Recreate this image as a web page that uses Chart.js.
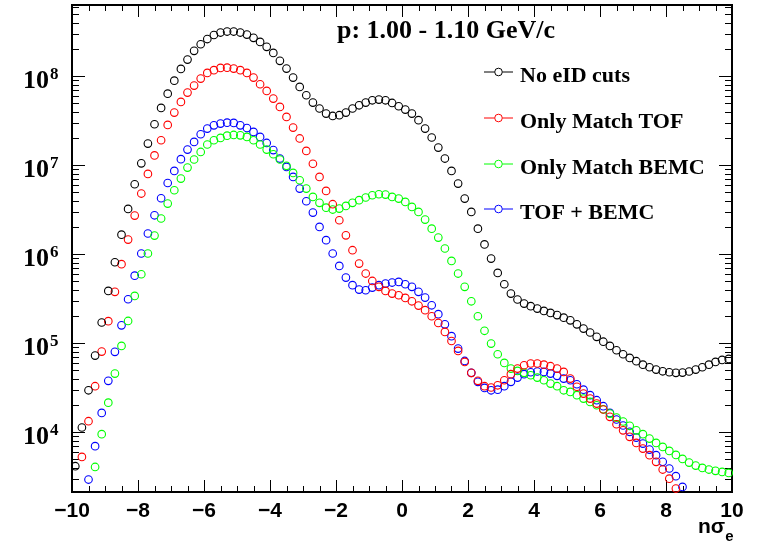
<!DOCTYPE html>
<html>
<head>
<meta charset="utf-8">
<script src="https://cdn.jsdelivr.net/npm/chart.js@4.4.1/dist/chart.umd.min.js"></script>
<style>
  html, body { margin: 0; padding: 0; background: #fff; }
  #plot { display: block; }
</style>
</head>
<body>
<canvas id="plot" width="769" height="543"></canvas>
<script>
// bin centres in n sigma_e
const nSigma = [
  -9.9, -9.7, -9.5, -9.3, -9.1, -8.9, -8.7, -8.5, -8.3, -8.1,
  -7.9, -7.7, -7.5, -7.3, -7.1, -6.9, -6.7, -6.5, -6.3, -6.1,
  -5.9, -5.7, -5.5, -5.3, -5.1, -4.9, -4.7, -4.5, -4.3, -4.1,
  -3.9, -3.7, -3.5, -3.3, -3.1, -2.9, -2.7, -2.5, -2.3, -2.1,
  -1.9, -1.7, -1.5, -1.3, -1.1, -0.9, -0.7, -0.5, -0.3, -0.1,
  0.1, 0.3, 0.5, 0.7, 0.9, 1.1, 1.3, 1.5, 1.7, 1.9,
  2.1, 2.3, 2.5, 2.7, 2.9, 3.1, 3.3, 3.5, 3.7, 3.9,
  4.1, 4.3, 4.5, 4.7, 4.9, 5.1, 5.3, 5.5, 5.7, 5.9,
  6.1, 6.3, 6.5, 6.7, 6.9, 7.1, 7.3, 7.5, 7.7, 7.9,
  8.1, 8.3, 8.5, 8.7, 8.9, 9.1, 9.3, 9.5, 9.7, 9.9
];

const noCuts = [
  4.15e3, 1.13e4, 2.96e4, 7.26e4, 1.71e5, 3.87e5, 8.13e5, 1.66e6, 3.23e6, 6.12e6,
  1.05e7, 1.75e7, 2.89e7, 4.41e7, 6.38e7, 8.93e7, 1.21e8, 1.54e8, 1.93e8, 2.29e8,
  2.62e8, 2.91e8, 3.10e8, 3.18e8, 3.18e8, 3.10e8, 2.94e8, 2.70e8, 2.43e8, 2.14e8,
  1.83e8, 1.49e8, 1.22e8, 9.66e7, 7.59e7, 6.12e7, 5.06e7, 4.34e7, 3.81e7, 3.58e7,
  3.65e7, 3.91e7, 4.34e7, 4.72e7, 5.06e7, 5.37e7, 5.47e7, 5.37e7, 5.01e7, 4.60e7,
  4.22e7, 3.81e7, 3.21e7, 2.58e7, 2.05e7, 1.58e7, 1.19e7, 8.63e6, 6.22e6, 4.22e6,
  2.99e6, 1.94e6, 1.29e6, 8.93e5, 6.17e5, 4.60e5, 3.61e5, 3.10e5, 2.79e5, 2.61e5,
  2.45e5, 2.31e5, 2.19e5, 2.07e5, 1.94e5, 1.81e5, 1.63e5, 1.46e5, 1.32e5, 1.18e5,
  1.04e5, 9.33e4, 8.34e4, 7.52e4, 6.84e4, 6.28e4, 5.75e4, 5.37e4, 5.06e4, 4.84e4,
  4.72e4, 4.65e4, 4.68e4, 4.81e4, 5.06e4, 5.37e4, 5.75e4, 6.17e4, 6.50e4, 6.67e4
];

const onlyTof = [
  null, 5.28e3, 1.33e4, 3.29e4, 8.05e4, 1.77e5, 3.78e5, 7.73e5, 1.46e6, 2.72e6,
  4.81e6, 8.00e6, 1.29e7, 1.91e7, 2.84e7, 3.91e7, 5.15e7, 6.55e7, 7.85e7, 9.42e7,
  1.09e8, 1.17e8, 1.24e8, 1.25e8, 1.22e8, 1.17e8, 1.09e8, 9.66e7, 8.13e7, 6.84e7,
  5.61e7, 4.52e7, 3.49e7, 2.65e7, 2.00e7, 1.45e7, 1.04e7, 7.40e6, 5.15e6, 3.65e6,
  2.41e6, 1.63e6, 1.11e6, 7.85e5, 6.07e5, 5.01e5, 4.30e5, 3.87e5, 3.61e5, 3.46e5,
  3.23e5, 2.96e5, 2.65e5, 2.35e5, 2.01e5, 1.69e5, 1.34e5, 1.06e5, 8.20e4, 6.17e4,
  4.65e4, 3.78e4, 3.29e4, 3.18e4, 3.37e4, 3.84e4, 4.49e4, 5.19e4, 5.66e4, 5.92e4,
  5.92e4, 5.75e4, 5.52e4, 5.19e4, 4.76e4, 4.01e4, 3.24e4, 2.72e4, 2.39e4, 2.10e4,
  1.80e4, 1.49e4, 1.23e4, 1.05e4, 8.87e3, 7.59e3, 6.55e3, 5.52e3, 4.65e3, 3.81e3,
  3.01e3, 2.33e3, null, null, null, null, null, null, null, null
];

const onlyBemc = [
  null, null, null, 4.07e3, 9.51e3, 2.15e4, 4.56e4, 9.33e4, 1.78e5, 3.40e5,
  5.96e5, 1.02e6, 1.62e6, 2.52e6, 3.71e6, 5.24e6, 7.08e6, 9.42e6, 1.16e7, 1.41e7,
  1.71e7, 1.91e7, 2.03e7, 2.15e7, 2.19e7, 2.17e7, 2.08e7, 1.91e7, 1.71e7, 1.50e7,
  1.33e7, 1.16e7, 9.84e6, 8.20e6, 6.78e6, 5.47e6, 4.41e6, 3.78e6, 3.34e6, 3.18e6,
  3.26e6, 3.49e6, 3.78e6, 4.05e6, 4.34e6, 4.60e6, 4.72e6, 4.68e6, 4.41e6, 4.22e6,
  3.87e6, 3.40e6, 2.99e6, 2.45e6, 1.94e6, 1.54e6, 1.16e6, 8.41e5, 6.07e5, 4.30e5,
  2.96e5, 2.01e5, 1.38e5, 9.91e4, 7.52e4, 6.01e4, 5.19e4, 4.89e4, 4.65e4, 4.37e4,
  4.11e4, 3.84e4, 3.52e4, 3.29e4, 2.96e4, 2.84e4, 2.61e4, 2.39e4, 2.19e4, 2.01e4,
  1.81e4, 1.62e4, 1.46e4, 1.32e4, 1.18e4, 1.05e4, 9.51e3, 8.49e3, 7.59e3, 6.84e3,
  6.17e3, 5.56e3, 5.01e3, 4.56e3, 4.22e3, 3.97e3, 3.81e3, 3.68e3, 3.58e3, 3.49e3
];

const tofBemc = [
  null, null, 2.94e3, 6.97e3, 1.65e4, 3.78e4, 8.00e4, 1.59e5, 3.12e5, 5.75e5,
  1.02e6, 1.71e6, 2.74e6, 4.26e6, 6.32e6, 8.63e6, 1.17e7, 1.50e7, 1.83e7, 2.23e7,
  2.58e7, 2.81e7, 2.94e7, 3.01e7, 2.99e7, 2.81e7, 2.62e7, 2.37e7, 2.08e7, 1.78e7,
  1.48e7, 1.19e7, 9.57e6, 7.40e6, 5.47e6, 3.94e6, 2.94e6, 2.03e6, 1.44e6, 1.02e6,
  7.40e5, 5.47e5, 4.49e5, 4.01e5, 3.94e5, 4.22e5, 4.49e5, 4.68e5, 4.81e5, 4.89e5,
  4.60e5, 4.30e5, 3.78e5, 3.26e5, 2.67e5, 2.12e5, 1.63e5, 1.20e5, 8.71e4, 6.32e4,
  4.65e4, 3.68e4, 3.15e4, 2.96e4, 3.01e4, 3.29e4, 3.68e4, 4.11e4, 4.49e4, 4.72e4,
  4.81e4, 4.76e4, 4.56e4, 4.30e4, 4.01e4, 3.84e4, 3.46e4, 3.01e4, 2.61e4, 2.29e4,
  1.96e4, 1.65e4, 1.39e4, 1.19e4, 1.01e4, 8.71e3, 7.46e3, 6.38e3, 5.52e3, 4.65e3,
  3.91e3, 3.21e3, 2.43e3, null, null, null, null, null, null, null
];

const seriesLabels = ["No eID cuts", "Only Match TOF", "Only Match BEMC", "TOF + BEMC"];
const seriesColors = ["#000000", "#ff0000", "#00ff00", "#0000ff"];
const seriesValues = [noCuts, onlyTof, onlyBemc, tofBemc];

const xTicks = [-10, -8, -6, -4, -2, 0, 2, 4, 6, 8, 10];
const xTickLabels = ["\u221210", "\u22128", "\u22126", "\u22124", "\u22122", "0", "2", "4", "6", "8", "10"];
const yDecades = [1e4, 1e5, 1e6, 1e7, 1e8];
const yExponents = ["4", "5", "6", "7", "8"];

const titleText = "p: 1.00 - 1.10 GeV/c";

const serif = "'Liberation Serif', 'Times New Roman', serif";
const sans = "'Liberation Sans', Arial, sans-serif";

// ROOT-like frame, ticks, labels and legend
const rootFrame = {
  id: "rootFrame",
  beforeDatasetsDraw(chart) {
    const ctx = chart.ctx;
    const area = chart.chartArea;
    const xs = chart.scales.x;
    const ys = chart.scales.y;

    ctx.save();
    ctx.strokeStyle = "#000";
    ctx.lineWidth = 1;
    ctx.beginPath();
    // x ticks, bottom and top
    for (let v = -10; v <= 10.001; v += 0.5) {
      const px = Math.round(xs.getPixelForValue(v)) + 0.5;
      const major = Math.abs(v / 2 - Math.round(v / 2)) < 1e-6;
      const len = major ? 12 : 6;
      ctx.moveTo(px, area.bottom);
      ctx.lineTo(px, area.bottom - len);
      ctx.moveTo(px, area.top);
      ctx.lineTo(px, area.top + len);
    }
    // y ticks, left and right
    for (let e = 3; e <= 8; e++) {
      for (let m = 1; m <= 9; m++) {
        const v = m * Math.pow(10, e);
        if (v < ys.min || v > ys.max) continue;
        const py = Math.round(ys.getPixelForValue(v)) + 0.5;
        const len = m === 1 ? 13 : 7;
        ctx.moveTo(area.left, py);
        ctx.lineTo(area.left + len, py);
        ctx.moveTo(area.right, py);
        ctx.lineTo(area.right - len, py);
      }
    }
    ctx.stroke();

    ctx.lineWidth = 2;
    ctx.strokeRect(area.left, area.top, area.right - area.left, area.bottom - area.top);

    // x labels
    ctx.fillStyle = "#000";
    ctx.font = "bold 21px " + sans;
    ctx.textAlign = "center";
    ctx.textBaseline = "alphabetic";
    xTicks.forEach((v, i) => {
      ctx.fillText(xTickLabels[i], xs.getPixelForValue(v), 517);
    });

    // axis title n sigma_e
    ctx.textAlign = "left";
    ctx.font = "bold 21px " + sans;
    ctx.fillText("n\u03c3", 698, 533);
    const w = ctx.measureText("n\u03c3").width;
    ctx.font = "bold 15px " + sans;
    ctx.fillText("e", 698 + w, 541);

    // y labels 10^n
    yDecades.forEach((v, i) => {
      const py = ys.getPixelForValue(v);
      ctx.font = "bold 26px " + serif;
      ctx.textAlign = "right";
      ctx.fillText("10", 49, py + 12);
      ctx.font = "bold 17px " + serif;
      ctx.textAlign = "left";
      ctx.fillText(yExponents[i], 50, py + 3);
    });

    // title
    ctx.font = "bold 26px " + serif;
    ctx.textAlign = "left";
    ctx.fillText(titleText, 337, 38);
    ctx.restore();
  },
  afterDraw(chart) {
    const ctx = chart.ctx;
    const rows = [72, 118, 164, 209];
    ctx.save();
    seriesLabels.forEach((label, i) => {
      const y = rows[i];
      ctx.strokeStyle = seriesColors[i];
      ctx.lineWidth = 1;
      ctx.beginPath();
      ctx.moveTo(484, y);
      ctx.lineTo(494.5, y);
      ctx.moveTo(502.5, y);
      ctx.lineTo(513, y);
      ctx.stroke();
      ctx.beginPath();
      ctx.arc(498.5, y, 3.8, 0, Math.PI * 2);
      ctx.stroke();
      ctx.fillStyle = "#000";
      ctx.font = "bold 22px " + serif;
      ctx.textAlign = "left";
      ctx.textBaseline = "alphabetic";
      ctx.fillText(label, 520, y + 10);
    });
    ctx.restore();
  }
};

function buildDatasets() {
  return seriesLabels.map((label, i) => {
    const points = nSigma.map((x, j) => ({ x: x, y: seriesValues[i][j] }));
    return {
      label: label,
      data: points.filter((p) => p.y !== null),
      showLine: false,
      pointStyle: "circle",
      pointRadius: 3.8,
      pointHoverRadius: 3.8,
      pointBorderWidth: 1.1,
      borderColor: seriesColors[i],
      backgroundColor: "rgba(0,0,0,0)",
      clip: false,
    };
  });
}

const ctx = document.getElementById("plot").getContext("2d");
new Chart(ctx, {
  type: "scatter",
  data: { datasets: buildDatasets() },
  options: {
    responsive: false,
    animation: false,
    devicePixelRatio: 1,
    layout: { padding: { left: 72, right: 37, top: 5, bottom: 51 } },
    plugins: {
      legend: { display: false },
      title: { display: false },
      tooltip: { enabled: false },
    },
    scales: {
      x: { type: "linear", min: -10, max: 10, display: false },
      y: { type: "logarithmic", min: 2130, max: 6.32e8, display: false },
    },
  },
  plugins: [rootFrame],
});
</script>
</body>
</html>
